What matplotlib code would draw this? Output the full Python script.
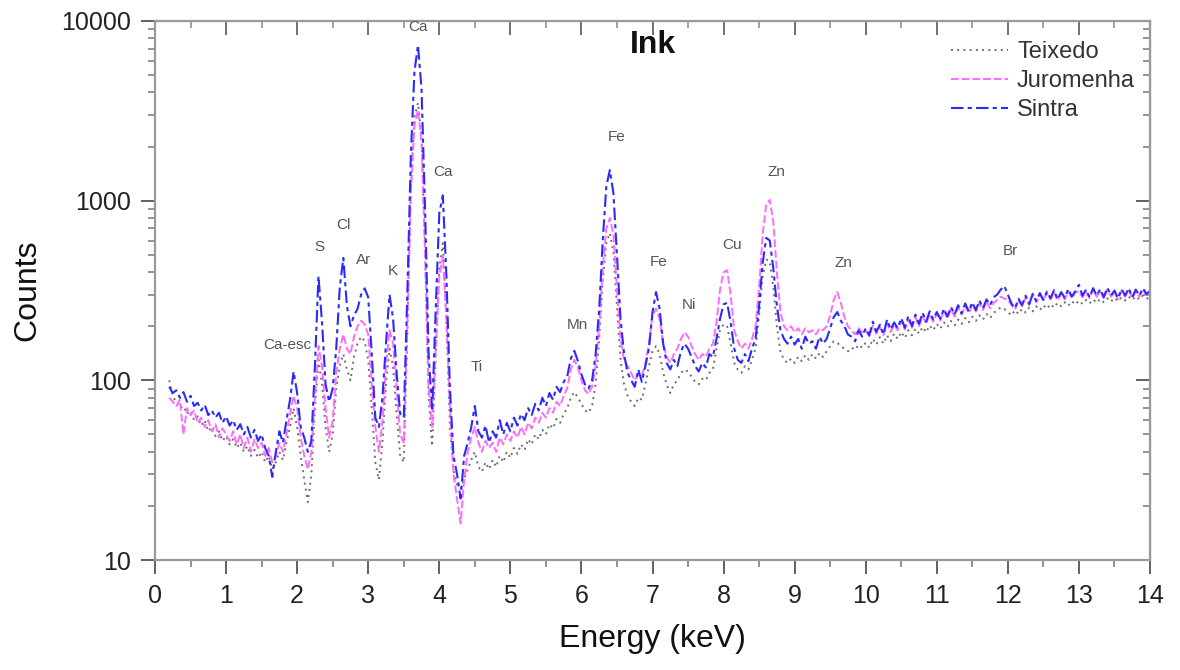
import numpy as np
import matplotlib
matplotlib.use("Agg")
import matplotlib.pyplot as plt
from matplotlib.ticker import MultipleLocator, LogLocator, NullFormatter, FixedLocator

plt.rcParams['font.family'] = ['Liberation Sans', 'DejaVu Sans']

# ---------------- data ----------------
E_START = 0.20   # keV
E_STEP = 0.05    # keV channel width
# Sintra (blue, dash-dot)
sintra = (
    [92, 85, 88, 80, 86, 76, 82, 72, 75, 68, 73, 64, 68, 62, 66, 58]
    + [63, 56, 60, 53, 57, 50, 55, 48, 53, 46, 50, 42, 38, 29, 40, 52, 45, 60, 78, 112]
    + [85, 55, 48, 40, 46, 120, 380, 210, 95, 76, 90, 150, 330, 480, 260, 200, 230, 250, 300, 325]
    + [290, 140, 62, 55, 80, 160, 300, 220, 110, 65, 62, 300, 1800, 5200, 7350, 4200, 900, 140, 68, 250]
    + [850, 1070, 380, 90, 38, 30, 22, 38, 45, 55, 72, 52, 48, 56, 45, 52, 48, 60, 50, 58]
    + [52, 62, 56, 65, 60, 70, 64, 74, 68, 80, 72, 85, 78, 92, 86, 98, 105, 132, 146, 128]
    + [108, 95, 90, 100, 140, 250, 600, 1200, 1480, 1100, 500, 220, 140, 110, 100, 92, 115, 98, 120, 150]
    + [240, 310, 250, 160, 125, 115, 130, 120, 145, 160, 150, 135, 120, 112, 125, 118, 140, 135, 170, 220]
    + [265, 270, 210, 150, 130, 125, 140, 128, 150, 170, 260, 450, 620, 600, 420, 260, 190, 170, 160, 175]
    + [158, 170, 150, 175, 160, 165, 150, 175, 160, 170, 195, 225, 240, 215, 200, 180, 175, 165, 190, 175]
    + [195, 178, 212, 186, 204, 180, 218, 192, 210, 195, 222, 196, 228, 200, 232, 206, 238, 212, 242, 218]
    + [240, 220, 250, 226, 256, 232, 262, 236, 268, 242, 272, 246, 278, 252, 282, 262, 290, 300, 320, 335]
    + [300, 268, 252, 284, 262, 296, 266, 302, 276, 306, 280, 312, 286, 318, 282, 310, 288, 322, 292, 314]
    + [340, 296, 320, 290, 326, 296, 322, 290, 328, 296, 316, 286, 322, 296, 326, 290, 320, 296, 326, 302]
    + [315]
)
# Juromenha (pink, dashed)
juromenha = (
    [80, 76, 72, 78, 50, 70, 64, 68, 58, 62, 55, 60, 52, 57, 48, 54]
    + [50, 46, 52, 44, 50, 42, 48, 40, 47, 42, 45, 38, 42, 35, 38, 45, 40, 50, 65, 82]
    + [70, 48, 38, 32, 40, 80, 155, 120, 70, 48, 60, 110, 150, 180, 150, 140, 175, 200, 215, 205]
    + [180, 95, 55, 40, 60, 120, 190, 160, 90, 50, 45, 200, 1100, 2600, 3200, 2100, 500, 90, 55, 150]
    + [380, 490, 220, 70, 30, 22, 16, 28, 40, 48, 55, 45, 40, 46, 42, 45, 40, 48, 44, 50]
    + [46, 52, 48, 55, 50, 58, 54, 62, 58, 66, 62, 70, 66, 76, 72, 82, 90, 115, 130, 118]
    + [100, 88, 84, 92, 120, 200, 420, 700, 800, 650, 320, 170, 130, 120, 110, 100, 108, 105, 125, 160]
    + [230, 250, 220, 160, 135, 125, 140, 150, 170, 185, 175, 155, 140, 130, 140, 135, 150, 160, 210, 320]
    + [400, 410, 300, 190, 165, 150, 160, 150, 170, 200, 330, 650, 950, 1010, 760, 400, 240, 200, 190, 200]
    + [185, 195, 180, 195, 185, 190, 180, 195, 190, 200, 230, 280, 310, 270, 225, 200, 190, 180, 195, 185]
    + [190, 176, 202, 182, 198, 178, 208, 186, 204, 190, 214, 192, 218, 196, 224, 200, 228, 206, 234, 212]
    + [234, 216, 244, 222, 250, 226, 254, 232, 260, 236, 264, 242, 270, 246, 274, 252, 270, 280, 292, 285]
    + [282, 262, 248, 280, 258, 290, 262, 304, 272, 300, 278, 306, 282, 310, 278, 304, 282, 314, 288, 308]
    + [314, 290, 310, 286, 320, 292, 314, 286, 320, 292, 310, 282, 316, 292, 320, 286, 314, 292, 320, 298]
    + [305]
)
# Teixedo (grey, dotted)
teixedo = (
    [100, 82, 75, 70, 72, 65, 68, 60, 63, 56, 60, 52, 55, 49, 52, 46]
    + [49, 44, 47, 42, 45, 40, 43, 38, 41, 37, 40, 35, 38, 32, 35, 40, 36, 45, 55, 70]
    + [55, 38, 28, 21, 30, 70, 130, 95, 55, 40, 50, 90, 120, 140, 115, 100, 135, 160, 175, 165]
    + [130, 70, 35, 28, 45, 95, 150, 120, 65, 38, 35, 180, 1200, 2900, 3500, 2300, 550, 80, 43, 140]
    + [420, 580, 220, 55, 32, 26, 25, 28, 32, 36, 40, 33, 31, 35, 32, 36, 33, 38, 35, 40]
    + [37, 42, 39, 44, 41, 47, 44, 50, 47, 53, 50, 57, 54, 61, 58, 65, 70, 80, 86, 80]
    + [74, 68, 66, 72, 95, 170, 360, 580, 660, 520, 260, 130, 95, 82, 76, 72, 80, 78, 95, 120]
    + [145, 155, 140, 110, 95, 85, 95, 100, 110, 115, 112, 105, 98, 95, 102, 100, 110, 115, 150, 190]
    + [205, 200, 160, 125, 115, 110, 120, 115, 130, 150, 230, 380, 470, 460, 330, 200, 145, 130, 125, 132]
    + [125, 135, 128, 138, 130, 140, 132, 142, 135, 145, 155, 165, 162, 155, 150, 145, 152, 148, 158, 152]
    + [162, 152, 170, 158, 174, 160, 178, 165, 182, 170, 186, 172, 190, 178, 194, 182, 198, 185, 202, 190]
    + [206, 194, 210, 198, 214, 202, 218, 206, 222, 210, 226, 214, 230, 218, 234, 222, 238, 245, 255, 250]
    + [240, 230, 246, 234, 250, 238, 254, 242, 258, 246, 262, 250, 266, 254, 270, 258, 272, 260, 276, 264]
    + [278, 266, 280, 268, 282, 270, 284, 272, 286, 274, 288, 276, 290, 278, 292, 280, 294, 282, 296, 284]
    + [290]
)
series_names = ["Teixedo", "Juromenha", "Sintra"]

peak_labels = ["Ca-esc", "S", "Cl", "Ar", "K", "Ca", "Ca", "Ti", "Mn", "Fe", "Fe", "Ni", "Cu", "Zn", "Zn", "Br"]
# label anchor points (keV, counts)
peak_label_pos = [(1.86, 157), (2.31, 552), (2.65, 733), (2.93, 468), (3.35, 406),
                  (3.70, 9260), (4.05, 1446), (4.52, 119), (5.94, 203), (6.50, 2262),
                  (7.09, 456), (7.51, 263), (8.12, 566), (8.75, 1446), (9.69, 450),
                  (12.03, 525)]

x_ticks = list(range(0, 15))
y_ticks = [10, 100, 1000, 10000]

n = len(sintra)
assert len(juromenha) == n and len(teixedo) == n
energy = np.round(E_START + E_STEP * np.arange(n), 2)

# ---------------- figure ----------------
fig = plt.figure(figsize=(11.8, 6.7), dpi=100)
ax = fig.add_axes([155 / 1180, 1 - 560 / 670, 995 / 1180, 539 / 670])

styles = [
    dict(color="#6e6e6e", ls=(0, (1, 2.2)), lw=1.4),
    dict(color="#ff6bff", ls=(0, (4, 1.5)), lw=1.4),
    dict(color="#2a2aff", ls=(0, (6, 2, 2, 2)), lw=1.5),
]
for name, vals, st in zip(series_names, [teixedo, juromenha, sintra], styles):
    ax.plot(energy, vals, label=name, **st)

ax.set_yscale("log")
ax.set_xlim(0, 14)
ax.set_ylim(10, 10000)

spine_col = "#9a9a9a"
for s in ax.spines.values():
    s.set_color(spine_col)
    s.set_linewidth(1.6)

ax.xaxis.set_major_locator(FixedLocator(x_ticks))
ax.xaxis.set_minor_locator(MultipleLocator(0.5))
ax.yaxis.set_major_locator(FixedLocator(y_ticks))
ax.yaxis.set_minor_locator(LogLocator(base=10, subs=np.arange(2, 10)))
ax.yaxis.set_minor_formatter(NullFormatter())
ax.set_yticklabels([str(v) for v in y_ticks])
ax.set_xticklabels([str(v) for v in x_ticks])

ax.tick_params(which="major", direction="out", length=10, width=1.3, color="#555555",
               labelsize=18, labelcolor="#222222", pad=7)
ax.tick_params(which="minor", direction="out", length=5, width=1.1, color="#777777")

# mirrored inward ticks on top and right
secx = ax.secondary_xaxis("top")
secx.xaxis.set_major_locator(FixedLocator(x_ticks))
secx.xaxis.set_minor_locator(MultipleLocator(0.5))
secx.tick_params(which="major", direction="in", length=10, width=1.3, color="#666666", labeltop=False)
secx.tick_params(which="minor", direction="in", length=5, width=1.1, color="#888888")
secx.spines["top"].set_color(spine_col)
secy = ax.secondary_yaxis("right")
secy.yaxis.set_major_locator(FixedLocator(y_ticks))
secy.yaxis.set_minor_locator(LogLocator(base=10, subs=np.arange(2, 10)))
secy.tick_params(which="major", direction="in", length=10, width=1.3, color="#555555", labelright=False)
secy.tick_params(which="minor", direction="in", length=5, width=1.1, color="#777777", labelright=False)
secy.yaxis.set_minor_formatter(NullFormatter())
secy.spines["right"].set_color("#666666")

ax.set_xlabel("Energy (keV)", fontsize=23, labelpad=12, color="#111111")
ax.set_ylabel("Counts", fontsize=23, labelpad=14, color="#111111")

ax.text(0.5, 0.955, "Ink", transform=ax.transAxes, ha="center", va="center",
        fontsize=23, fontweight="bold", color="#111111")

for lab, (ex, cy) in zip(peak_labels, peak_label_pos):
    ax.text(ex, cy, lab, ha="center", va="center", fontsize=11, color="#555555", clip_on=False)

leg = ax.legend(loc="upper left", bbox_to_anchor=(951 / 1180, (670 - 41) / 670),
                bbox_transform=fig.transFigure, frameon=False, fontsize=17,
                handlelength=2.4, handletextpad=0.4, labelspacing=0.3,
                borderpad=0, borderaxespad=0)
for t in leg.get_texts():
    t.set_color("#333333")

fig.savefig("out.png", dpi=100)
